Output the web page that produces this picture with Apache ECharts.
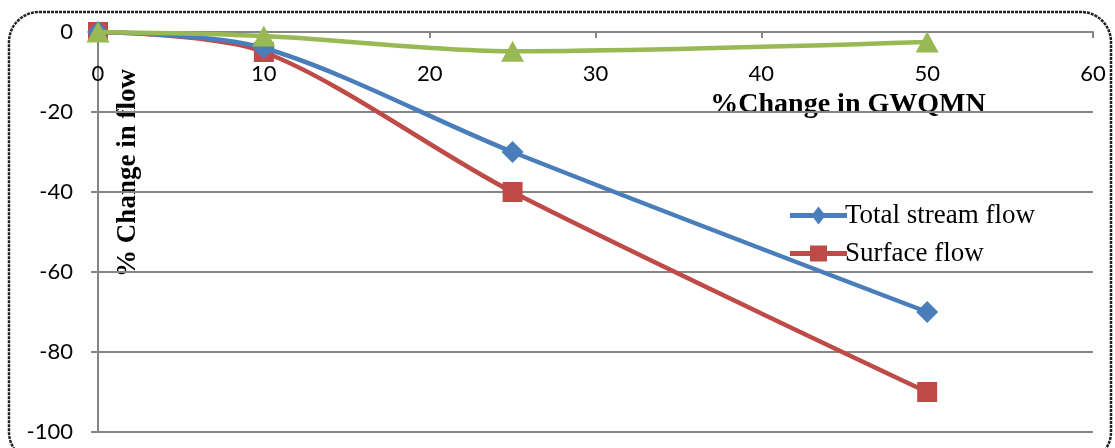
<!DOCTYPE html>
<html><head><meta charset="utf-8">
<script src="https://cdn.jsdelivr.net/npm/echarts@6/dist/echarts.min.js"></script>
<style>html,body{margin:0;padding:0;background:#fff}#c{width:1115px;height:448px}</style>
</head><body><div id="c"></div>
<script>
const xValues = [0, 10, 25, 50];
const totalStreamFlow = [0, -4, -30, -70];
const surfaceFlow = [0, -5, -40, -90];
const baseFlow = [0, -1, -4.8, -2.5];
const seriesNames = ['Total stream flow', 'Surface flow', 'Base flow'];
const xAxisTitle = '%Change in GWQMN';
const yAxisTitle = '% Change in flow';

const pair = (ys) => xValues.map((x, i) => [x, ys[i]]);
const axisGray = '#868686';
const iconDiamond = 'path://M0,6.5H57V11.5H0Z M28.5,0L35.5,9L28.5,18L21.5,9Z';
const iconSquare = 'path://M0,6.5H57V11.5H0Z M20,1H37V17H20Z';
const chart = echarts.init(document.getElementById('c'));
chart.setOption({
  animation: false,
  backgroundColor: '#fff',
  grid: { left: 98, right: 22, top: 32, bottom: 16 },
  xAxis: {
    type: 'value', min: 0, max: 60, interval: 10, position: 'top',
    axisLine: { onZero: false, lineStyle: { color: axisGray, width: 2 } },
    axisTick: { show: true, inside: true, length: 6, lineStyle: { color: axisGray, width: 2 } },
    axisLabel: { inside: true, margin: 31, color: '#000', fontFamily: 'Lato', fontSize: 22 },
    splitLine: { show: false }
  },
  yAxis: {
    type: 'value', min: -100, max: 0, interval: 20,
    axisLine: { show: true, onZero: false, lineStyle: { color: axisGray, width: 2 } },
    axisTick: { show: true, length: 7, lineStyle: { color: axisGray, width: 2 } },
    axisLabel: { margin: 25, color: '#000', fontFamily: 'Lato', fontSize: 22 },
    splitLine: { lineStyle: { color: axisGray, width: 2 } }
  },
  legend: {
    data: [{ name: seriesNames[0], icon: iconDiamond }, { name: seriesNames[1], icon: iconSquare }],
    orient: 'vertical', left: 785, top: 197,
    itemWidth: 57, itemHeight: 18, itemGap: 11,
    textStyle: { fontFamily: 'Liberation Serif', fontSize: 27, color: '#000', padding: [0, 0, 0, -7] }
  },
  graphic: [
    { type: 'rect', shape: { x: 9, y: 12, width: 1102, height: 450, r: 30 }, z: -1,
      style: { fill: 'none', stroke: '#222', lineWidth: 2.5, lineDash: [3, 1] } },
    { type: 'text', x: 848, y: 105, style: { text: xAxisTitle, x: 0, y: 0, align: 'center', verticalAlign: 'middle',
      font: 'bold 28px "Liberation Serif"', fill: '#000' } },
    { type: 'text', rotation: Math.PI / 2, x: 128, y: 173, style: { text: yAxisTitle, x: 0, y: 0, align: 'center', verticalAlign: 'middle',
      font: 'bold 27px "Liberation Serif"', fill: '#000' } }
  ],
  series: [
    { name: seriesNames[0], type: 'line', data: pair(totalStreamFlow), smooth: 0.3,
      symbol: 'diamond', symbolSize: 22, color: '#4A7EBB', lineStyle: { width: 4.5 }, z: 3 },
    { name: seriesNames[1], type: 'line', data: pair(surfaceFlow), smooth: 0.3,
      symbol: 'rect', symbolSize: 20, color: '#BE4B48', lineStyle: { width: 4.5 }, z: 2 },
    { name: seriesNames[2], type: 'line', data: pair(baseFlow), smooth: 0.3,
      symbol: 'triangle', symbolSize: [23, 21], color: '#98B954', lineStyle: { width: 4.5 }, z: 4 }
  ]
});
</script></body></html>
